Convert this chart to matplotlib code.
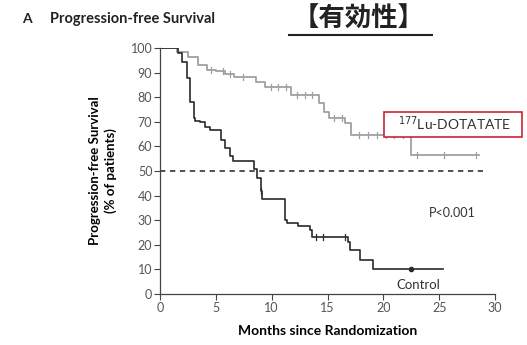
import numpy as np
import matplotlib
matplotlib.use("Agg")
import matplotlib.pyplot as plt
from matplotlib.patches import Rectangle
from matplotlib.lines import Line2D

plt.rcParams['font.family'] = ['Lato', 'DejaVu Sans']

# Kaplan-Meier steps: level (%) that starts at each time (months)
lu_t = [0, 1.5, 2.5, 3.4, 4.2, 5.0, 5.8, 6.6, 8.6, 9.4, 11.7, 14.2, 14.7, 15.1, 16.6, 17.1, 22.5, 28.6]
lu_s = [100, 98.5, 96.5, 93, 91, 90.5, 89.5, 88.3, 86.3, 84.3, 81, 77.5, 74, 71.5, 69.5, 64.5, 56.5, 56.5]
lu_cens_t = [4.6, 5.6, 6.3, 7.4, 9.9, 10.6, 11.3, 12.3, 13.0, 13.6, 15.6, 16.3,
             17.8, 18.6, 19.4, 20.2, 21.0, 21.8, 23.0, 25.4, 28.3]

ctl_t = [0, 1.6, 2.0, 2.4, 2.7, 3.0, 3.1, 3.6, 4.0, 4.5, 5.5, 5.8, 6.3, 6.5, 8.4, 8.7, 9.0, 9.1,
         11.2, 11.4, 12.4, 13.4, 13.6, 16.8, 17.0, 17.9, 19.1, 25.3]
ctl_s = [100, 98, 94.5, 88, 78, 71.5, 70.5, 70, 68, 66.5, 62.5, 59.5, 56, 54, 51, 47, 42, 38.5,
         30, 29, 27.5, 26, 23, 21, 18, 14, 10, 10]
ctl_cens_t = [9.0, 14.0, 14.6, 16.6, 22.5]

x_ticks = [0, 5, 10, 15, 20, 25, 30]
y_ticks = [0, 10, 20, 30, 40, 50, 60, 70, 80, 90, 100]


def surv_at(t_list, s_list, t):
    idx = np.searchsorted(t_list, t, side='right') - 1
    return s_list[idx]


W, H = 527, 345
fig = plt.figure(figsize=(W / 100, H / 100), dpi=100)
ax = fig.add_axes([160 / W, 1 - 294 / H, 335 / W, 246 / H])

ax.step(lu_t, lu_s, where='post', color='#a0a0a0', lw=1.3)
ax.step(ctl_t, ctl_s, where='post', color='#2a2a2a', lw=1.2)

for t in lu_cens_t:
    y = surv_at(lu_t, lu_s, t)
    ax.plot([t, t], [y - 1.2, y + 1.2], color='#a0a0a0', lw=0.9)
for t in ctl_cens_t[:-1]:
    y = surv_at(ctl_t, ctl_s, t)
    ax.plot([t, t], [y - 1.2, y + 1.2], color='#2a2a2a', lw=0.9)
ax.plot([ctl_cens_t[-1]], [surv_at(ctl_t, ctl_s, ctl_cens_t[-1])], 'o', ms=3, color='#2a2a2a')

ax.plot([0, 28.9], [50, 50], ls=(0, (3.5, 3)), color='#222222', lw=1.1)

ax.set_xlim(0, 30)
ax.set_ylim(0, 100)
ax.set_xticks(x_ticks)
ax.set_yticks(y_ticks)
for s in ['top', 'right']:
    ax.spines[s].set_visible(False)
for s in ['left', 'bottom']:
    ax.spines[s].set_color('#444444')
    ax.spines[s].set_linewidth(0.9)
ax.tick_params(direction='out', length=4, width=0.8, color='#444444',
               labelsize=9, labelcolor='#555555', pad=1.5)

ax.set_xlabel('Months since Randomization', fontsize=10, fontweight='bold', labelpad=8)
ax.set_ylabel('Progression-free Survival\n(% of patients)', fontsize=9.5,
              fontweight='bold', labelpad=10, linespacing=1.25)

ax.text(26.2, 33, 'P<0.001', fontsize=9, color='#333333', ha='center', va='center')
ax.text(23.1, 3.7, 'Control', fontsize=9.5, color='#333333', ha='center', va='center')

# legend-like label with red box
fig.patches.append(Rectangle((384 / W, 1 - 137 / H), 138 / W, 25 / H, transform=fig.transFigure,
                             fill=True, facecolor='white', edgecolor='#cc2233', lw=1.2, zorder=5))
fig.text(455 / W, 1 - 124 / H, r'$^{177}$Lu-DOTATATE', fontsize=10, color='#333333',
         ha='center', va='center', zorder=6)

fig.text(22 / W, 1 - 19 / H, 'A', fontsize=10, fontweight='bold', color='#222222', va='center')
fig.text(50 / W, 1 - 19 / H, 'Progression-free Survival', fontsize=10.5, fontweight='bold',
         color='#222222', va='center')

fig.text(359 / W, 1 - 19 / H, '【有効性】', fontsize=19, fontweight='bold', color='#222222',
         ha='center', va='center', family=['Noto Sans CJK JP', 'DejaVu Sans'])
fig.lines.append(Line2D([289 / W, 432 / W], [1 - 35 / H, 1 - 35 / H], transform=fig.transFigure,
                        color='#222222', lw=1.5))

fig.savefig('out.png', dpi=100)
